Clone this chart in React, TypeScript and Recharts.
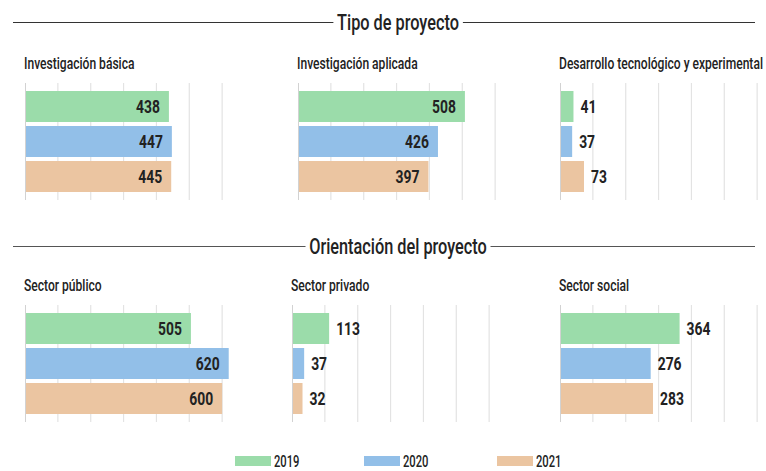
import React from 'react';
import { BarChart, Bar, XAxis, YAxis, CartesianGrid, Cell, LabelList, ReferenceLine } from 'recharts';

const years = ['2019', '2020', '2021'];
const yearColors = ['#9bdcaa', '#92bfe8', '#ebc5a1'];

// Tipo de proyecto
const basica = [438, 447, 445];
const aplicada = [508, 426, 397];
const desarrollo = [41, 37, 73];

// Orientación del proyecto
const publico = [505, 620, 600];
const privado = [113, 37, 32];
const social = [364, 276, 283];

const gridTicks = [0, 100, 200, 300, 400, 500, 600];

const FONT = "Roboto, 'Noto Sans', 'DejaVu Sans', sans-serif";
// no condensed face installed, so narrow the text by hand
const NARROW = 0.73;

const renderLabel = (props: any) => {
    const x = Number(props.x);
    const y = Number(props.y);
    const width = Number(props.width);
    const height = Number(props.height);
    const value = props.value;
    const inside = value > 380;
    const tx = inside ? x + width - 9 : x + width + 7;
    const ty = y + height / 2;
    return (
        <text
            transform={`translate(${tx},${ty}) scale(${NARROW},1)`}
            x={0}
            y={0}
            dy="0.36em"
            textAnchor={inside ? 'end' : 'start'}
            fontSize={19}
            fontWeight={700}
            fontFamily={FONT}
            fill="#222"
        >
            {value}
        </text>
    );
};

interface PanelProps {
    title: string;
    values: number[];
    left: number;
    top: number;
}

function Panel({ title, values, left, top }: PanelProps) {
    const data = years.map((year, i) => ({ year, value: values[i] }));
    return (
        <>
            <div
                style={{
                    position: 'absolute',
                    left: left - 1,
                    top: top - 28,
                    fontSize: 17,
                    fontWeight: 500,
                    lineHeight: '17px',
                    color: '#222',
                    whiteSpace: 'nowrap',
                    transform: 'scaleX(0.71)',
                    transformOrigin: 'left center',
                }}
            >
                {title}
            </div>
            <div style={{ position: 'absolute', left, top }}>
                <BarChart width={230} height={117} data={data} layout="vertical" margin={{ top: 0, right: 0, bottom: 0, left: 0 }}>
                    <CartesianGrid horizontal={false} verticalValues={gridTicks} stroke="#e3e3e3" strokeWidth={1.2} />
                    <XAxis type="number" domain={[0, 700]} ticks={gridTicks} hide />
                    <YAxis type="category" dataKey="year" hide padding={{ top: 6, bottom: 6 }} />
                    <ReferenceLine x={0} stroke="#d2d2d2" strokeWidth={2} />
                    <Bar dataKey="value" barSize={31} isAnimationActive={false}>
                        {data.map((d, i) => (
                            <Cell key={`cell-${d.year}`} fill={yearColors[i]} />
                        ))}
                        <LabelList dataKey="value" content={renderLabel} />
                    </Bar>
                </BarChart>
            </div>
        </>
    );
}

function SectionTitle({ text, y, color }: { text: string; y: number; color: string }) {
    return (
        <>
            <div style={{ position: 'absolute', left: 13, width: 742, top: y, height: 1, background: color }} />
            <div
                style={{
                    position: 'absolute',
                    left: 398,
                    top: y - 10,
                    transform: `translateX(-50%) scaleX(0.74)`,
                    transformOrigin: 'center center',
                    background: '#fff',
                    padding: '0 5px',
                    fontSize: 22,
                    fontWeight: 500,
                    lineHeight: '22px',
                    color: '#222',
                    whiteSpace: 'nowrap',
                }}
            >
                {text}
            </div>
        </>
    );
}

const legendLeft = [235, 364, 497];

export default function App() {
    return (
        <div style={{ position: 'absolute', left: 0, top: 0, width: 766, height: 471, overflow: 'hidden', background: '#fff', fontFamily: FONT }}>
            <SectionTitle text="Tipo de proyecto" y={22} color="#333" />
            <Panel title="Investigación básica" values={basica} left={25} top={83} />
            <Panel title="Investigación aplicada" values={aplicada} left={297.5} top={83} />
            <Panel title="Desarrollo tecnológico y experimental" values={desarrollo} left={559.5} top={83} />

            <SectionTitle text="Orientación del proyecto" y={246} color="#555" />
            <Panel title="Sector público" values={publico} left={25} top={305} />
            <Panel title="Sector privado" values={privado} left={292} top={305} />
            <Panel title="Sector social" values={social} left={559.5} top={305} />

            {years.map((year, i) => (
                <React.Fragment key={year}>
                    <div style={{ position: 'absolute', left: legendLeft[i], top: 456, width: 36, height: 10, background: yearColors[i] }} />
                    <div
                        style={{
                            position: 'absolute',
                            left: legendLeft[i] + 39,
                            top: 455.5,
                            fontSize: 16,
                            fontWeight: 500,
                            lineHeight: '12px',
                            color: '#222',
                            transform: 'scaleX(0.7)',
                            transformOrigin: 'left center',
                        }}
                    >
                        {year}
                    </div>
                </React.Fragment>
            ))}
        </div>
    );
}
